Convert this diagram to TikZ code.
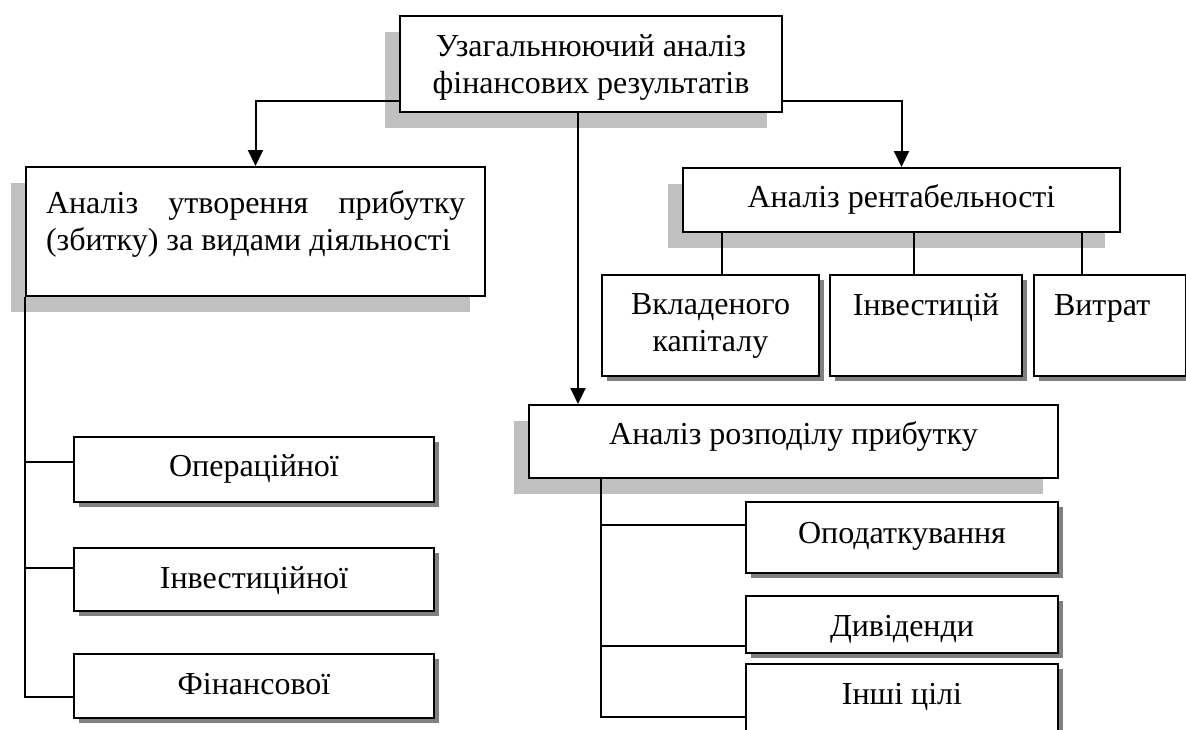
\documentclass[tikz,border=0pt]{standalone}
\usepackage{fontspec}
\setmainfont{Liberation Serif}
\usetikzlibrary{arrows.meta,shadows}
\definecolor{shadelight}{HTML}{C0C0C0}
\definecolor{shadedark}{HTML}{808080}
\newcommand\boxfont{\fontsize{32}{37}\selectfont}

\begin{document}
\begin{tikzpicture}[x=1pt,y=-1pt,
  mainbox/.style={draw, fill=white, line width=2pt, inner sep=0pt, anchor=north west,
    font=\boxfont, align=center,
    drop shadow={shadow xshift=-15pt, shadow yshift=-16pt, fill=shadelight, opacity=1}},
  subbox/.style={draw, fill=white, line width=2pt, inner sep=0pt, anchor=north west,
    font=\boxfont, align=center,
    drop shadow={shadow xshift=5pt, shadow yshift=-5pt, fill=shadedark, opacity=1}},
  link/.style={line width=2pt},
  arr/.style={link, -{Triangle[length=16pt,width=15pt]}}]
  \useasboundingbox (0,0) rectangle (1186,729);
  % Main box.
  \node[mainbox, minimum width=382pt, text height=77pt, text depth=19pt] (top) at (399,15)
    {Узагальнюючий аналіз\\фінансових результатів};
  % Three analyses.
  \node[mainbox, minimum width=459pt, text width=419pt, align=justify, text height=46pt, text depth=83pt] (form) at (25,166)
    {Аналіз утворення прибутку (збитку) за видами діяльності};
  \node[mainbox, minimum width=437pt, text height=39pt, text depth=25pt] (rent) at (682,167)
    {Аналіз рентабельності};
  \node[mainbox, minimum width=529pt, text height=39pt, text depth=34pt] (dist) at (528,404)
    {Аналіз розподілу прибутку};
  % Kinds of activity.
  \node[subbox, minimum width=360pt, text height=39pt, text depth=26pt] (oper) at (73,436) {Операційної};
  \node[subbox, minimum width=360pt, text height=40pt, text depth=23pt] (invact) at (73,547) {Інвестиційної};
  \node[subbox, minimum width=360pt, text height=40pt, text depth=24pt] (fin) at (73,653) {Фінансової};
  % Kinds of profitability.
  \node[subbox, minimum width=217pt, text height=76pt, text depth=25pt] (cap) at (601,274) {Вкладеного\\капіталу};
  \node[subbox, minimum width=192pt, text height=40pt, text depth=61pt] (inv) at (829,274) {Інвестицій};
  \node[subbox, inner xsep=20pt, text width=112pt, align=left, text height=40pt, text depth=61pt] (cost) at (1033,274) {Витрат};
  % Uses of profit.
  \node[subbox, minimum width=312pt, text height=41pt, text depth=30pt] (tax) at (745,501) {Оподаткування};
  \node[subbox, minimum width=312pt, text height=40pt, text depth=17pt] (div) at (745,595) {Дивіденди};
  \node[subbox, minimum width=312pt, text height=40pt, text depth=66pt] (misc) at (745,663) {Інші цілі};
  % Arrows from the main box.
  \draw[arr] ([yshift=-37pt]top.west) -| (form.north);
  \draw[arr] ([yshift=-37pt]top.east) -| (rent.north);
  \draw[arr] ([xshift=-13pt]top.south) -- ([xshift=-13pt]top.south |- dist.north);
  % Profitability links.
  \draw[link] ([xshift=11.5pt]cap.north) -- ([xshift=11.5pt]cap.north |- rent.south);
  \draw[link] ([xshift=-12pt]inv.north) -- ([xshift=-12pt]inv.north |- rent.south);
  \draw[link] ([xshift=-28pt]cost.north) -- ([xshift=-28pt]cost.north |- rent.south);
  % Activity links.
  \draw[link] (form.south west) |- ([yshift=-11pt]fin.west);
  \draw[link] ([yshift=7.5pt]oper.west) -- ([yshift=7.5pt]oper.west -| form.west);
  \draw[link] ([yshift=11.5pt]invact.west) -- ([yshift=11.5pt]invact.west -| form.west);
  % Distribution links.
  \coordinate (dtrunk) at ([xshift=73pt]dist.south west);
  \draw[link] (dtrunk) |- (misc.west);
  \draw[link] ([yshift=12.5pt]tax.west) -- ([yshift=12.5pt]tax.west -| dtrunk);
  \draw[link] ([yshift=-21.5pt]div.west) -- ([yshift=-21.5pt]div.west -| dtrunk);
\end{tikzpicture}
\end{document}
